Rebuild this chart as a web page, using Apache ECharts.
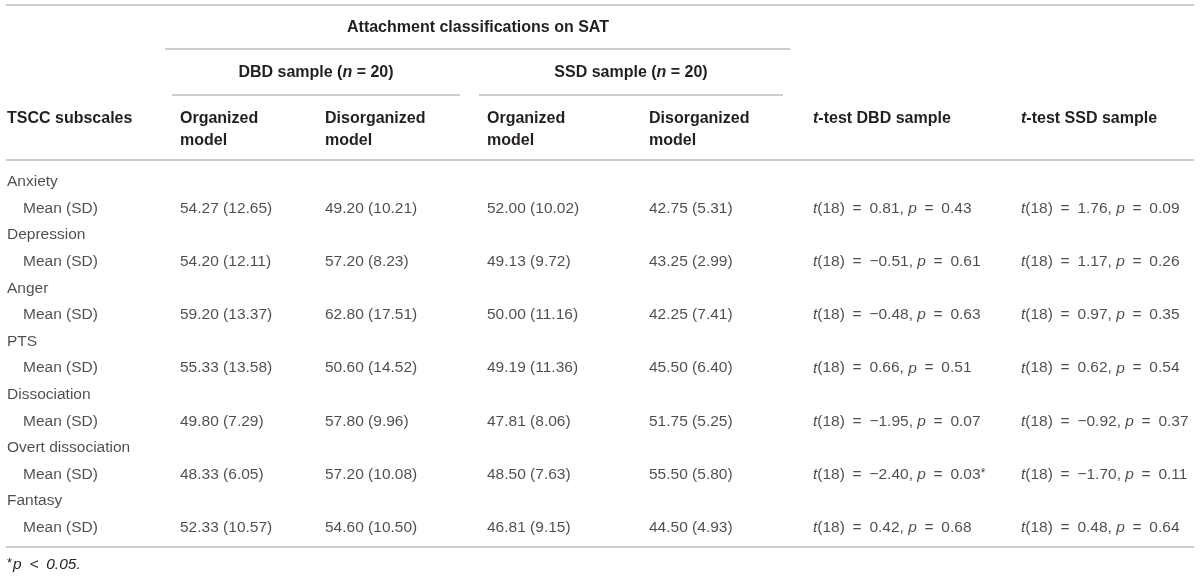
<!DOCTYPE html>
<html>
<head>
<meta charset="utf-8">
<title>TSCC subscales by attachment classification</title>
<script src="https://cdn.jsdelivr.net/npm/echarts@6/dist/echarts.min.js"></script>
<style>
  html, body { margin: 0; padding: 0; background: #fff; }
  #table { width: 1200px; height: 578px; }
</style>
</head>
<body>
<div id="table"></div>
<script>
// table values
const subscales = ['Anxiety', 'Depression', 'Anger', 'PTS', 'Dissociation', 'Overt dissociation', 'Fantasy'];
const dbdOrgMean = [54.27, 54.20, 59.20, 55.33, 49.80, 48.33, 52.33];
const dbdOrgSD   = [12.65, 12.11, 13.37, 13.58, 7.29, 6.05, 10.57];
const dbdDisMean = [49.20, 57.20, 62.80, 50.60, 57.80, 57.20, 54.60];
const dbdDisSD   = [10.21, 8.23, 17.51, 14.52, 9.96, 10.08, 10.50];
const ssdOrgMean = [52.00, 49.13, 50.00, 49.19, 47.81, 48.50, 46.81];
const ssdOrgSD   = [10.02, 9.72, 11.16, 11.36, 8.06, 7.63, 9.15];
const ssdDisMean = [42.75, 43.25, 42.25, 45.50, 51.75, 55.50, 44.50];
const ssdDisSD   = [5.31, 2.99, 7.41, 6.40, 5.25, 5.80, 4.93];
const tDbd = [0.81, -0.51, -0.48, 0.66, -1.95, -2.40, 0.42];
const pDbd = [0.43, 0.61, 0.63, 0.51, 0.07, 0.03, 0.68];
const tSsd = [1.76, 1.17, 0.97, 0.62, -0.92, -1.70, 0.48];
const pSsd = [0.09, 0.26, 0.35, 0.54, 0.37, 0.11, 0.64];
const df = 18;
const alpha = 0.05;
const rowLabel = 'Mean (SD)';

// layout
const FONT = '"Liberation Sans", Arial, Helvetica, sans-serif';
const INK = '#231f20';
const RULE = '#bdbdbd';
// left edge of each column: name, indented row label, 4 mean columns, 2 t-test columns
const colX = [7, 23, 180, 325, 487, 649, 813, 1021];
const sp = '\u2002';

function num(v) {
  return (v < 0 ? '\u2212' : '') + Math.abs(v).toFixed(2);
}
function meanSd(m, s) {
  return m.toFixed(2) + ' (' + s.toFixed(2) + ')';
}
function tTest(t, p) {
  return '{i|t}(' + df + ')' + sp + '=' + sp + num(t) + ', {i|p}' + sp + '=' + sp +
    p.toFixed(2) + (p < alpha ? '{sup|*}' : '');
}

const rowKeys = [];
const cells = [];
subscales.forEach(function (name, i) {
  const r = i * 2;
  rowKeys.push(name, name + ' ' + rowLabel);
  cells.push([colX[0], r, name]);
  cells.push([colX[1], r + 1, rowLabel]);
  cells.push([colX[2], r + 1, meanSd(dbdOrgMean[i], dbdOrgSD[i])]);
  cells.push([colX[3], r + 1, meanSd(dbdDisMean[i], dbdDisSD[i])]);
  cells.push([colX[4], r + 1, meanSd(ssdOrgMean[i], ssdOrgSD[i])]);
  cells.push([colX[5], r + 1, meanSd(ssdDisMean[i], ssdDisSD[i])]);
  cells.push([colX[6], r + 1, tTest(tDbd[i], pDbd[i])]);
  cells.push([colX[7], r + 1, tTest(tSsd[i], pSsd[i])]);
});

const bodyRich = {
  i: { fontFamily: FONT, fontSize: 15.5, fontStyle: 'italic', color: INK },
  sup: { fontFamily: FONT, fontSize: 13, color: INK, verticalAlign: 'top', padding: [0, 0, 3, 0] }
};
const headRich = {
  bi: { fontFamily: FONT, fontSize: 16, fontWeight: 'bold', fontStyle: 'italic', fill: INK }
};

function rule(x1, x2, y) {
  return { type: 'line', silent: true, shape: { x1: x1, y1: y, x2: x2, y2: y },
    style: { stroke: RULE, lineWidth: 1.5 } };
}
function head(text, x, y, align) {
  return { type: 'text', silent: true,
    style: { text: text, x: x, y: y, align: align || 'left', verticalAlign: 'middle',
      fontFamily: FONT, fontSize: 16, fontWeight: 'bold', fill: INK, lineHeight: 22, rich: headRich } };
}

const chart = echarts.init(document.getElementById('table'));
chart.setOption({
  animation: false,
  backgroundColor: '#fff',
  grid: { left: 0, right: 0, top: 168.7, height: 372.4 },
  xAxis: { type: 'value', min: 0, max: 1200, show: false },
  yAxis: { type: 'category', data: rowKeys, inverse: true, show: false },
  series: [{
    type: 'scatter',
    silent: true,
    symbolSize: 0,
    data: cells,
    encode: { x: 0, y: 1 },
    label: {
      show: true,
      position: 'right',
      distance: 0,
      fontFamily: FONT,
      fontSize: 15.5,
      color: INK,
      formatter: function (p) { return p.data[2]; },
      rich: bodyRich
    }
  }],
  graphic: [
    rule(6, 1194, 5),
    rule(165, 790, 49),
    rule(172, 460, 95),
    rule(479, 783, 95),
    rule(6, 1194, 160),
    rule(6, 1194, 547),
    head('Attachment classifications on SAT', 478, 28, 'center'),
    head('DBD sample ({bi|n} = 20)', 316, 73, 'center'),
    head('SSD sample ({bi|n} = 20)', 631, 73, 'center'),
    head('TSCC subscales', colX[0], 119),
    head('Organized\nmodel', colX[2], 130),
    head('Disorganized\nmodel', colX[3], 130),
    head('Organized\nmodel', colX[4], 130),
    head('Disorganized\nmodel', colX[5], 130),
    head('{bi|t}-test DBD sample', colX[6], 119),
    head('{bi|t}-test SSD sample', colX[7], 119),
    { type: 'text', silent: true,
      style: { text: '{s|*}{i|p' + sp + '<' + sp + '0.05.}', x: colX[0], y: 565, verticalAlign: 'middle',
        fill: INK, fontFamily: FONT, fontSize: 15.5,
        rich: {
          s: { fontFamily: FONT, fontSize: 13, fill: INK, verticalAlign: 'top', padding: [0, 1, 3, 0] },
          i: { fontFamily: FONT, fontSize: 15.5, fontStyle: 'italic', fill: INK }
        } } }
  ]
});
</script>
</body>
</html>
